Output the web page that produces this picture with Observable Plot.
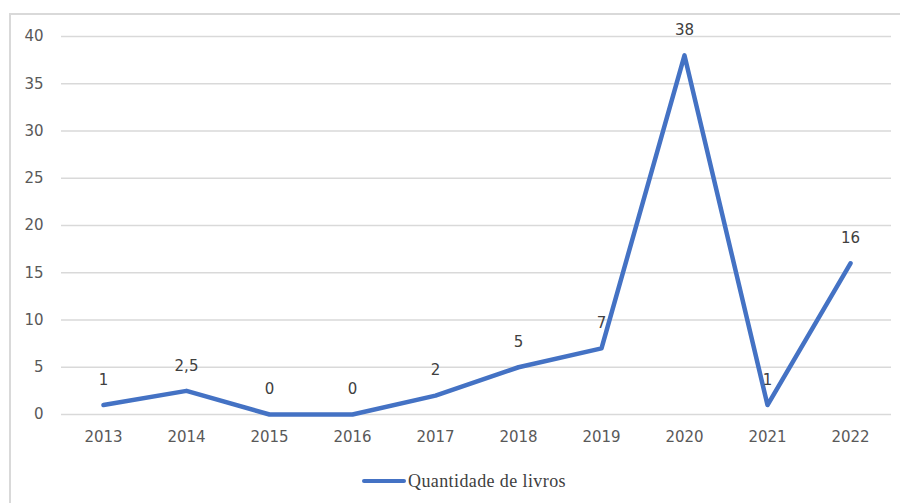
<!DOCTYPE html>
<html>
<head>
<meta charset="utf-8">
<script src="https://cdn.jsdelivr.net/npm/d3@7"></script>
<script src="https://cdn.jsdelivr.net/npm/@observablehq/plot@0.6"></script>
<style>
  html, body { margin: 0; padding: 0; background: #fff; }
  #wrap { position: relative; width: 900px; height: 503px; overflow: hidden; background: #fff; }
  #frame { position: absolute; left: 9px; top: 13px; width: 900px; height: 500px; border: 2px solid #d9d9d9; box-sizing: border-box; }
  #chart { position: absolute; left: 0; top: 0; }
  #legend { position: absolute; left: 362px; top: 470px; height: 22px; display: flex; align-items: center; }
  #legend .swatch { width: 44px; height: 4px; background: #4472C4; border-radius: 2px; }
  #legend .label { font-family: "Liberation Serif", serif; font-size: 18px; color: #404040; letter-spacing: 0.4px; margin-left: 2px; }
</style>
</head>
<body>
<div id="wrap">
  <div id="frame"></div>
  <div id="chart"></div>
  <div id="legend"><div class="swatch"></div><div class="label">Quantidade de livros</div></div>
</div>
<script>
// Books published per year
const years = ["2013", "2014", "2015", "2016", "2017", "2018", "2019", "2020", "2021", "2022"];
const books = [1, 2.5, 0, 0, 2, 5, 7, 38, 1, 16];
const valueLabels = ["1", "2,5", "0", "0", "2", "5", "7", "38", "1", "16"];
const yTicks = [0, 5, 10, 15, 20, 25, 30, 35, 40];

const rows = years.map((year, i) => ({year, value: books[i], label: valueLabels[i]}));

const plot = Plot.plot({
  width: 900,
  height: 455,
  marginLeft: 61,
  marginRight: 9,
  marginTop: 36,
  marginBottom: 41,
  style: {fontFamily: "DejaVu Sans", fontSize: "15px", background: "transparent", overflow: "visible"},
  x: {type: "point", domain: years, padding: 0.5},
  y: {domain: [0, 40]},
  marks: [
    Plot.ruleY(yTicks, {stroke: "#d9d9d9", strokeWidth: 1.5}),
    Plot.axisY(yTicks, {tickSize: 0, tickPadding: 18, fill: "#595959", fontSize: 15, label: null}),
    Plot.axisX({tickSize: 0, tickPadding: 17, fill: "#595959", fontSize: 15, label: null}),
    Plot.line(rows, {x: "year", y: "value", stroke: "#4472C4", strokeWidth: 4.5, strokeLinejoin: "round", strokeLinecap: "round"}),
    Plot.text(rows, {x: "year", y: "value", text: "label", dy: -25, fill: "#404040", fontSize: 15})
  ]
});
document.getElementById("chart").appendChild(plot);
</script>
</body>
</html>
